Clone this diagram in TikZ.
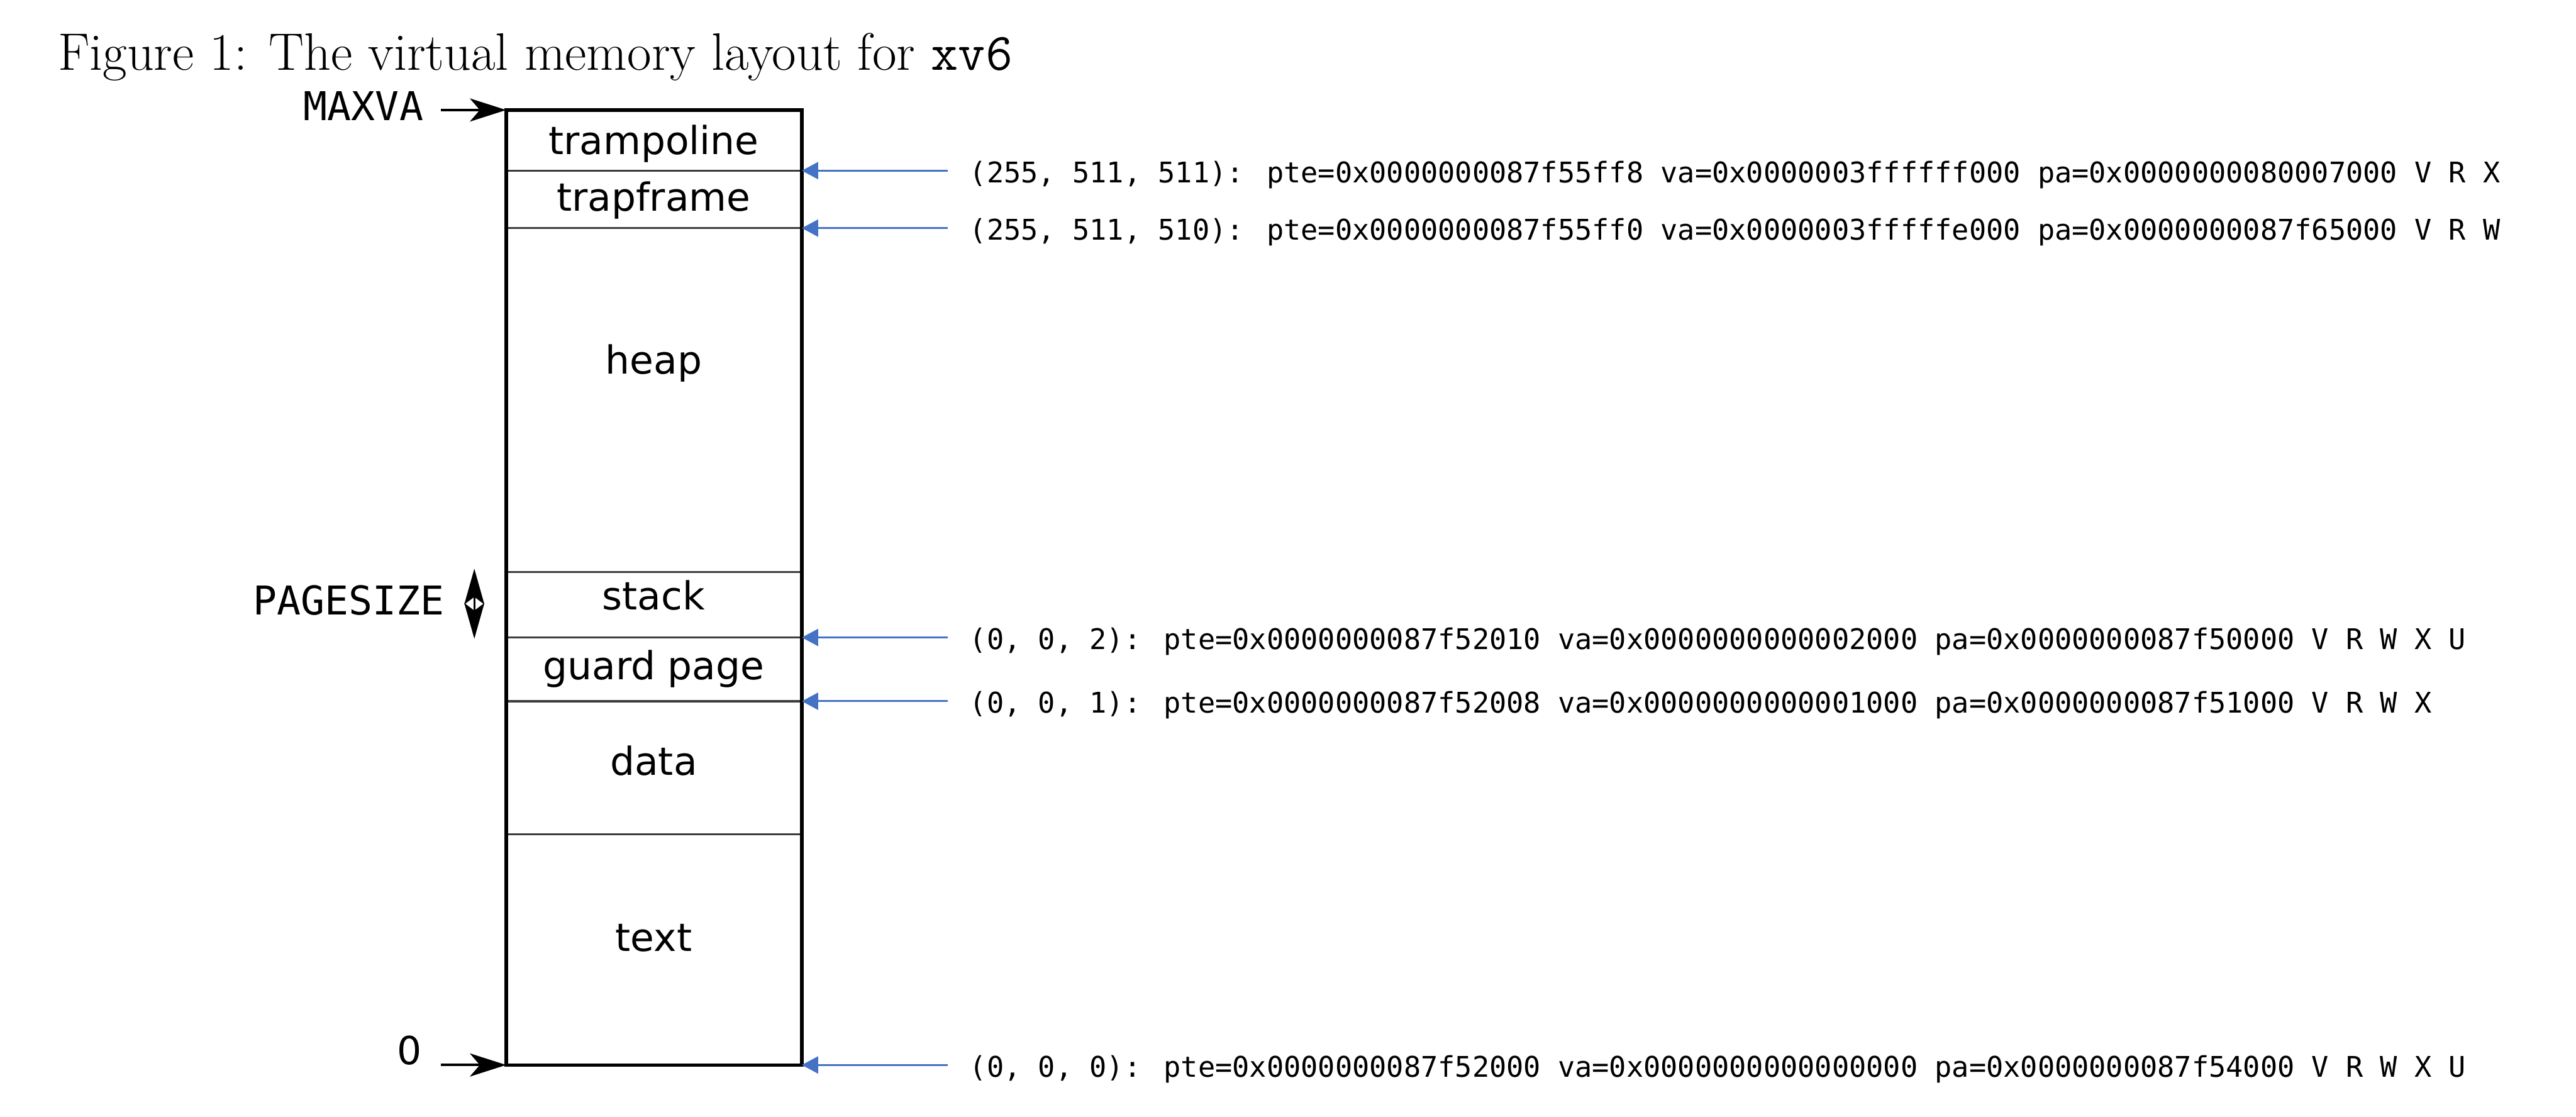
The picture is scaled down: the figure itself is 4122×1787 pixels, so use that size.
\documentclass[tikz,border=0pt]{standalone}
\usepackage{fontspec}
\newfontfamily\labsans{DejaVu Sans}
\newfontfamily\labmono{DejaVu Sans Mono}
\usetikzlibrary{arrows.meta}
\definecolor{arrblue}{RGB}{68,114,196}
\definecolor{divgray}{RGB}{60,60,60}
\tikzset{
  seglabel/.style={anchor=base, inner sep=0pt, font=\labsans\fontsize{17.6pt}{20pt}\selectfont},
  sidelabel/.style={anchor=base east, inner sep=0pt, font=\labmono\fontsize{18.07pt}{21pt}\selectfont},
  rowlabel/.style={anchor=base west, inner sep=0pt, font=\labmono\fontsize{12.95pt}{15pt}\selectfont},
  boxline/.style={line width=1.5pt, black},
  divline/.style={line width=0.95pt, divgray},
  blkarrow/.style={line width=1.14pt, black, -{Stealth[length=16.5pt, width=10.5pt, inset=4.5pt]}},
  dblarrow/.style={line width=0.85pt, black, {Stealth[length=16.2pt, width=9.1pt, inset=3.4pt]}-{Stealth[length=16.2pt, width=9.1pt, inset=3.4pt]}},
  bluearrow/.style={line width=0.85pt, arrblue, -{Triangle[length=7.4pt, width=7.7pt]}}
}
\begin{document}
\begin{tikzpicture}[x=0.01cm, y=-0.01cm]
\fill[white] (0,0) rectangle (4122,1787);
\useasboundingbox (0,0) rectangle (4122,1787);

% title
\node[anchor=base west, inner sep=0pt, font=\fontsize{24pt}{28pt}\selectfont] (title) at (92,112)
  {Figure 1: The virtual memory layout for \texttt{xv6}};

% box corners and dividers
\coordinate (tl) at (810,176);
\coordinate (br) at (1283,1704);
\coordinate (bl) at (810,1704);
\foreach \yy in {273,365,915,1020,1122,1335}{
  \draw[divline] (810,\yy) -- (1283,\yy);
}
\draw[boxline] (tl) rectangle (br);

% segment labels
\node[seglabel] (tramp) at (1046,247) {trampoline};
\node[seglabel] (trapf) at (1046,338) {trapframe};
\node[seglabel] (heap)  at (1046,598) {heap};
\node[seglabel] (stack) at (1046,976) {stack};
\node[seglabel] (guard) at (1046,1087) {guard page};
\node[seglabel] (data)  at (1046,1240) {data};
\node[seglabel] (text)  at (1046,1522) {text};

% left side labels and arrows
\node[sidelabel] (maxva) at (678,193) {MAXVA};
\coordinate (ma) at (705,176);
\draw[blkarrow] (ma) -- (tl);

\node[seglabel] (zero) at (655,1703) {0};
\coordinate (za) at (705,1704);
\draw[blkarrow] (za) -- (bl);

\node[sidelabel] (pagesize) at (712,984) {PAGESIZE};
\coordinate (ps1) at (759,910);
\coordinate (ps2) at (759,1022);
\draw[dblarrow] (ps1) -- (ps2);

% right side rows
\node[rowlabel] (r1) at (1551,292) {(255, 511, 511): pte=0x0000000087f55ff8 va=0x0000003ffffff000 pa=0x0000000080007000 V R X};
\node[rowlabel] (r2) at (1551,384) {(255, 511, 510): pte=0x0000000087f55ff0 va=0x0000003fffffe000 pa=0x0000000087f65000 V R W};
\node[rowlabel] (r3) at (1551,1039) {(0, 0, 2): pte=0x0000000087f52010 va=0x0000000000002000 pa=0x0000000087f50000 V R W X U};
\node[rowlabel] (r4) at (1551,1141) {(0, 0, 1): pte=0x0000000087f52008 va=0x0000000000001000 pa=0x0000000087f51000 V R W X};
\node[rowlabel] (r5) at (1551,1723) {(0, 0, 0): pte=0x0000000087f52000 va=0x0000000000000000 pa=0x0000000087f54000 V R W X U};

\coordinate (a1) at (1517,273);  \coordinate (b1) at (1283,273);
\coordinate (a2) at (1517,365);  \coordinate (b2) at (1283,365);
\coordinate (a3) at (1517,1020); \coordinate (b3) at (1283,1020);
\coordinate (a4) at (1517,1122); \coordinate (b4) at (1283,1122);
\coordinate (a5) at (1517,1704); \coordinate (b5) at (1283,1704);
\foreach \i in {1,...,5}{
  \draw[bluearrow] (a\i) -- (b\i);
}
\end{tikzpicture}
\end{document}
